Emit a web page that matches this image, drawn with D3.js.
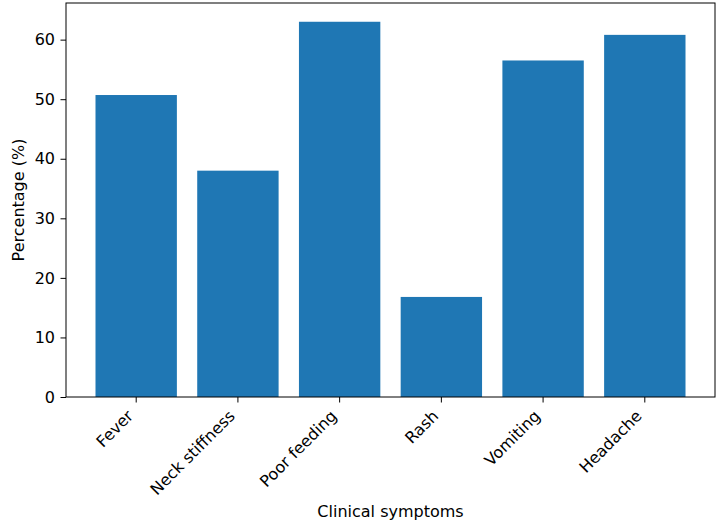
<!DOCTYPE html>
<html>
<head>
<meta charset="utf-8">
<script src="https://cdn.jsdelivr.net/npm/d3@7"></script>
<style>
  body { margin: 0; background: #fff; }
  svg text { font-family: "DejaVu Sans", sans-serif; fill: #000; }
</style>
</head>
<body>
<div id="chart_div"></div>
<script>
// data
const symptoms = ["Fever", "Neck stiffness", "Poor feeding", "Rash", "Vomiting", "Headache"];
const percentages = [50.7, 38.0, 63.0, 16.8, 56.5, 60.8];
const y_ticks = [0, 10, 20, 30, 40, 50, 60];

const chart_width = 718, chart_height = 526;
const margin = {top: 3, right: 3, bottom: 129, left: 66};
const plot_width = chart_width - margin.left - margin.right,
    plot_height = chart_height - margin.top - margin.bottom;
const font_size = "16px";

const svg = d3.select("#chart_div")
  .append("svg")
    .attr("width", chart_width)
    .attr("height", chart_height);

const g = svg.append("g")
    .attr("transform", `translate(${margin.left}, ${margin.top})`);

// x scale: bars are 0.8 wide, matplotlib style 5% margins
const x = d3.scaleBand()
    .domain(symptoms)
    .range([0, plot_width])
    .paddingInner(0.2)
    .paddingOuter(0.29);

const y = d3.scaleLinear()
    .domain([0, d3.max(percentages) * 1.05])
    .range([plot_height, 0]);

// bars
g.append("g")
  .selectAll("rect")
  .data(symptoms)
  .join("rect")
    .attr("x", d => x(d))
    .attr("y", (d, i) => y(percentages[i]))
    .attr("width", x.bandwidth())
    .attr("height", (d, i) => plot_height - y(percentages[i]))
    .style("fill", "#1f77b4");

// y axis
const yAxis = g.append("g")
    .call(d3.axisLeft(y).tickValues(y_ticks).tickSize(5.5).tickPadding(5.5));
yAxis.select(".domain").remove();
yAxis.selectAll("line").attr("stroke", "#000").attr("stroke-width", 1);
yAxis.selectAll("text").style("font-size", font_size).style("font-family", "DejaVu Sans, sans-serif");

// x axis
const xAxis = g.append("g")
    .attr("transform", `translate(0, ${plot_height})`)
    .call(d3.axisBottom(x).tickSize(5.5).tickPadding(5.5));
xAxis.select(".domain").remove();
xAxis.selectAll("line").attr("stroke", "#000").attr("stroke-width", 1);
xAxis.selectAll("text")
    .style("font-size", font_size)
    .style("font-family", "DejaVu Sans, sans-serif")
    .attr("text-anchor", "end")
    .attr("y", 0)
    .attr("dy", 0)
    .attr("transform", "translate(-2, 20) rotate(-45)");

// frame
g.append("rect")
    .attr("width", plot_width)
    .attr("height", plot_height)
    .attr("fill", "none")
    .attr("stroke", "#000")
    .attr("stroke-width", 1);

// labels
svg.append("text")
    .attr("text-anchor", "middle")
    .attr("x", margin.left + plot_width / 2)
    .attr("y", 517)
    .style("font-size", font_size)
    .text("Clinical symptoms");

svg.append("text")
    .attr("text-anchor", "middle")
    .attr("transform", `translate(24, ${margin.top + plot_height / 2}) rotate(-90)`)
    .style("font-size", font_size)
    .text("Percentage (%)");
</script>
</body>
</html>
